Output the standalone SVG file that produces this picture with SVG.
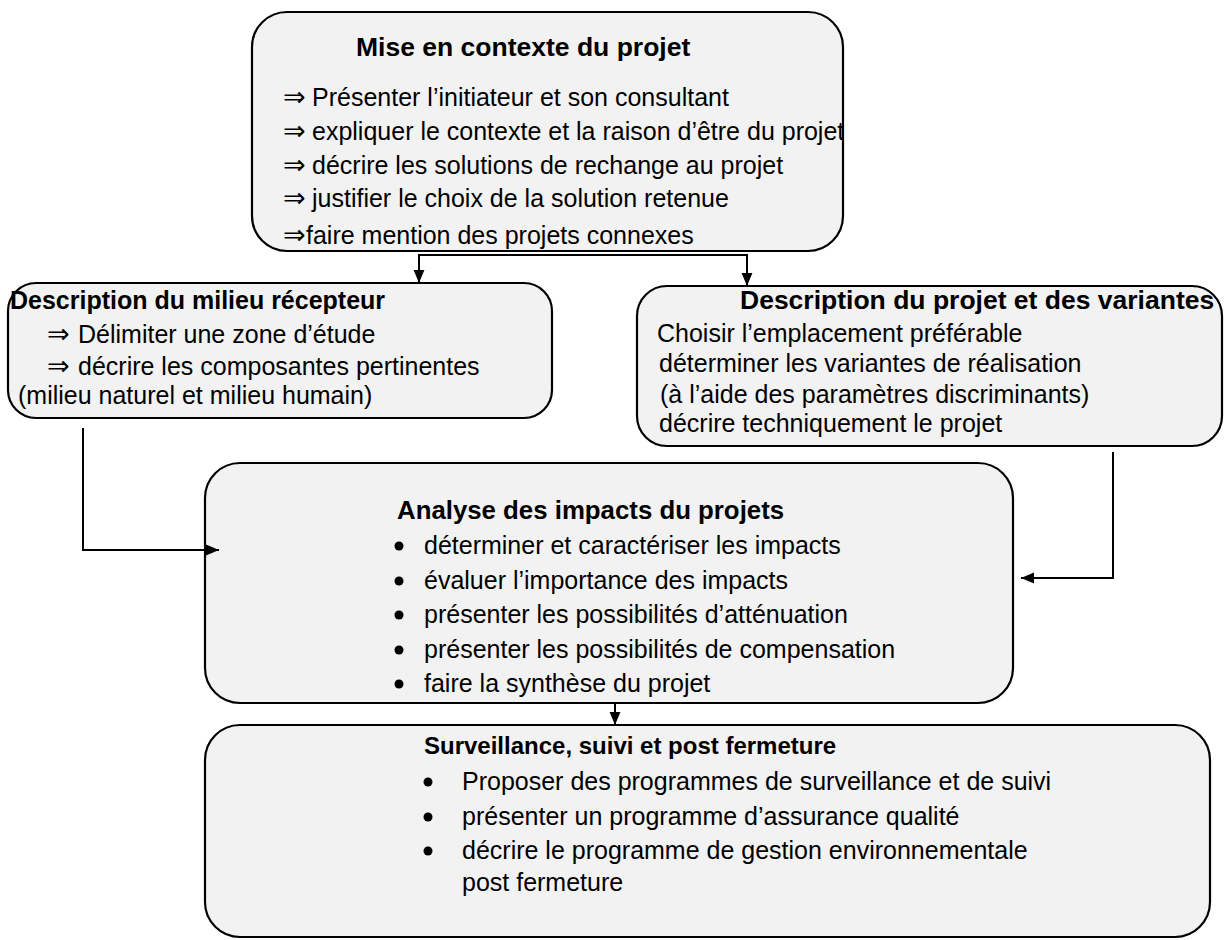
<svg xmlns="http://www.w3.org/2000/svg" width="1225" height="940" viewBox="0 0 1225 940">
<style>
.box{fill:#f2f2f2;stroke:#000;stroke-width:2.2}
.t{font-family:"Liberation Sans",Arial,sans-serif;font-size:25px;fill:#000}
.b{font-weight:bold}
.ar{font-family:"DejaVu Sans","Liberation Sans",sans-serif;font-size:27px}
.con{fill:none;stroke:#000;stroke-width:2}
</style>
<defs>
<marker id="ah" viewBox="0 0 12 12" refX="12" refY="6" markerWidth="13" markerHeight="13" markerUnits="userSpaceOnUse" orient="auto">
<path d="M0,1 L12,6 L0,11 z" fill="#000"/>
</marker>
<clipPath id="clipTop"><rect x="252" y="12" width="590" height="239" rx="35"/></clipPath>
</defs>
<g id="mise-en-contexte">
<rect class="box" x="252" y="12" width="591" height="239" rx="35"/>
<g clip-path="url(#clipTop)">
<text class="t b" x="356" y="56" style="font-size:26.5px">Mise en contexte du projet</text>
<text class="t" x="283" y="106"><tspan class="ar">⇒</tspan><tspan x="312">Présenter l’initiateur et son consultant</tspan></text>
<text class="t" x="283" y="140"><tspan class="ar">⇒</tspan><tspan x="312">expliquer le contexte et la raison d’être du projet</tspan></text>
<text class="t" x="283" y="174"><tspan class="ar">⇒</tspan><tspan x="312">décrire les solutions de rechange au projet</tspan></text>
<text class="t" x="283" y="207"><tspan class="ar">⇒</tspan><tspan x="312">justifier le choix de la solution retenue</tspan></text>
<text class="t" x="283" y="244"><tspan class="ar">⇒</tspan><tspan x="306">faire mention des projets connexes</tspan></text>
</g>
</g>
<g id="milieu-recepteur">
<rect class="box" x="8" y="283" width="544" height="135" rx="28"/>
<text class="t b" x="10" y="309">Description du milieu récepteur</text>
<text class="t" x="47" y="343"><tspan class="ar">⇒</tspan><tspan x="78">Délimiter une zone d’étude</tspan></text>
<text class="t" x="47" y="375"><tspan class="ar">⇒</tspan><tspan x="78">décrire les composantes pertinentes</tspan></text>
<text class="t" x="18" y="404">(milieu naturel et milieu humain)</text>
</g>
<g id="projet-variantes">
<rect class="box" x="637" y="286" width="585" height="160" rx="30"/>
<text class="t b" x="740" y="309" style="font-size:26.5px">Description du projet et des variantes</text>
<text class="t" x="657" y="342">Choisir l’emplacement préférable</text>
<text class="t" x="659" y="372">déterminer les variantes de réalisation</text>
<text class="t" x="660" y="403">(à l’aide des paramètres discriminants)</text>
<text class="t" x="659" y="432">décrire techniquement le projet</text>
</g>
<g id="analyse-impacts">
<rect class="box" x="205" y="463" width="808" height="240" rx="35"/>
<text class="t b" x="397" y="519" style="font-size:25.8px">Analyse des impacts du projets</text>
<g class="t">
<circle cx="399" cy="546" r="4.5"/><text x="424" y="554">déterminer et caractériser les impacts</text>
<circle cx="399" cy="581" r="4.5"/><text x="424" y="589">évaluer l’importance des impacts</text>
<circle cx="399" cy="615" r="4.5"/><text x="424" y="623">présenter les possibilités d’atténuation</text>
<circle cx="399" cy="650" r="4.5"/><text x="424" y="658">présenter les possibilités de compensation</text>
<circle cx="399" cy="684" r="4.5"/><text x="424" y="692">faire la synthèse du projet</text>
</g>
</g>
<g id="surveillance">
<rect class="box" x="205" y="725" width="1005" height="212" rx="35"/>
<text class="t b" x="424" y="754" style="font-size:24px">Surveillance, suivi et post fermeture</text>
<g class="t">
<circle cx="428" cy="782" r="4.5"/><text x="462" y="790">Proposer des programmes de surveillance et de suivi</text>
<circle cx="428" cy="817" r="4.5"/><text x="462" y="825">présenter un programme d’assurance qualité</text>
<circle cx="428" cy="851" r="4.5"/><text x="462" y="859">décrire le programme de gestion environnementale</text>
<text x="462" y="891">post fermeture</text>
</g>
</g>
<g id="connectors">
<path class="con" d="M583,255 H419 V283" marker-end="url(#ah)"/>
<path class="con" d="M583,255 H747 V286" marker-end="url(#ah)"/>
<path class="con" d="M83,428 V550 H219" marker-end="url(#ah)"/>
<path class="con" d="M1113,452 V578 H1021" marker-end="url(#ah)"/>
<path class="con" d="M615,703 V725" marker-end="url(#ah)"/>
</g>
</svg>
